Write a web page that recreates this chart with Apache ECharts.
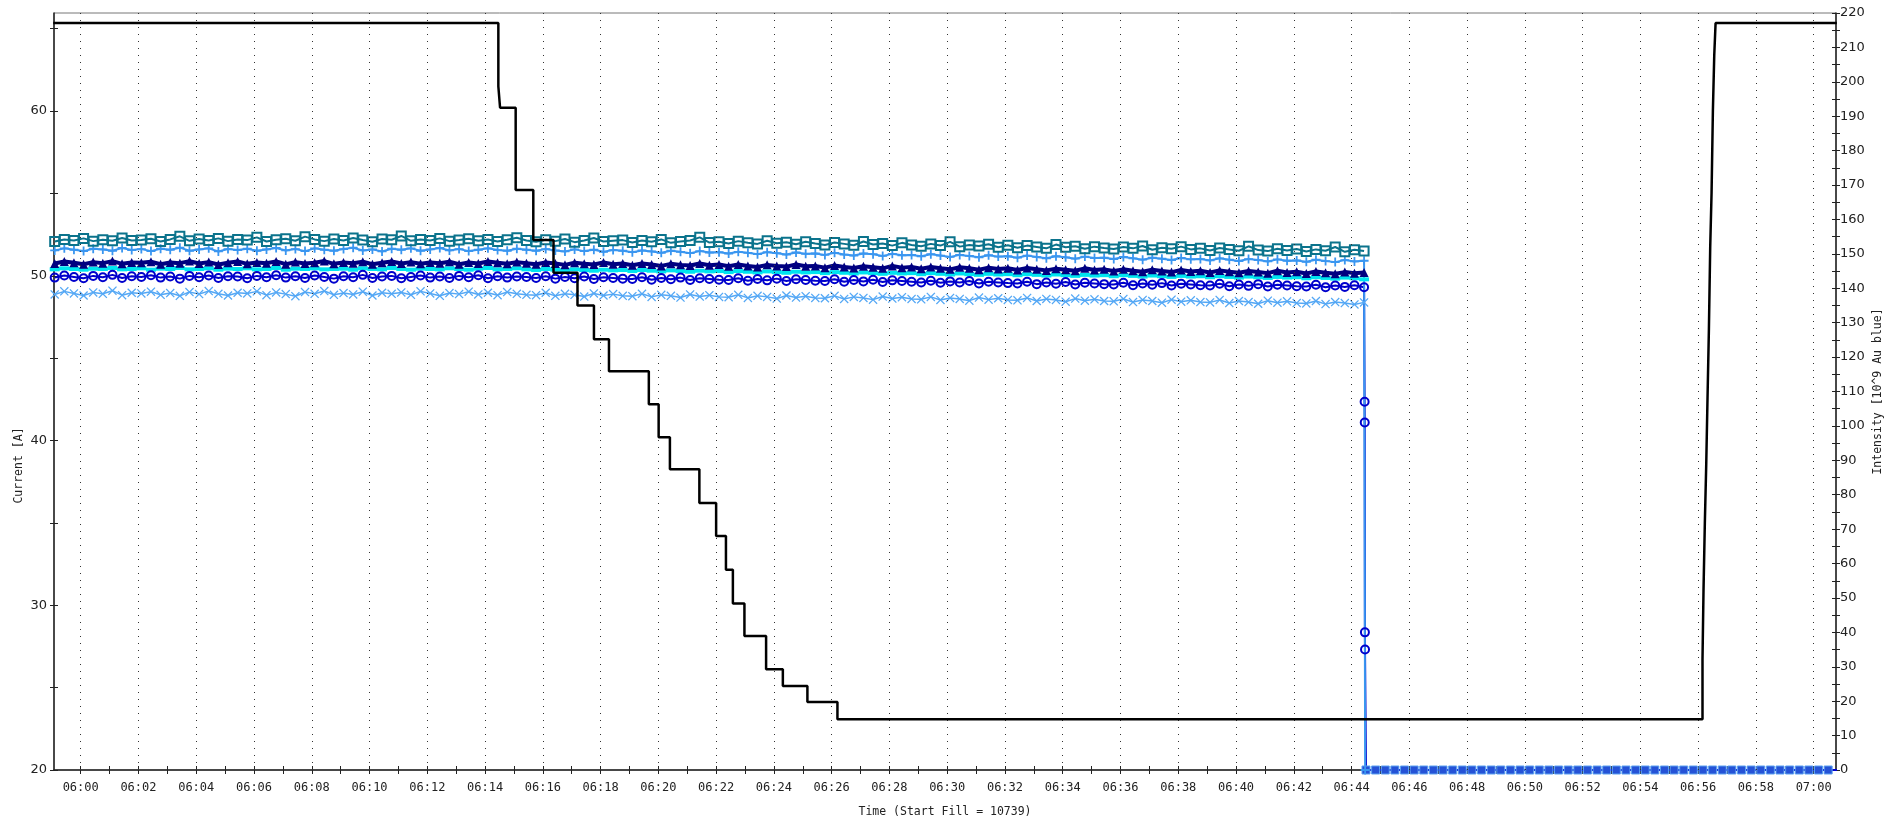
<!DOCTYPE html>
<html><head><meta charset="utf-8">
<script src="https://cdn.jsdelivr.net/npm/echarts@6/dist/echarts.min.js"></script>
<style>html,body{margin:0;padding:0;background:#fff}#c{width:1904px;height:822px}</style>
</head><body><div id="c"></div>
<script>
// ---------- time sampling (minutes after 06:00) ----------
const xMinMinutes = -0.924;
const xMaxMinutes = 60.772;
const sampleStartMin = -0.9;
const sampleStepMin = 1 / 3;
const dumpTimeMin = 44.47;
const dumpStartMin = 44.5;

// ---------- intensity signals [10^9 Au blue] ----------
const tealSquares = [
153.6,154.2,153.9,154.5,153.7,154.1,153.8,154.6,153.9,154.0,
154.4,153.6,154.2,155.1,153.8,154.3,153.9,154.5,153.7,154.2,
154.0,154.8,153.6,154.1,154.4,153.8,155.0,154.2,153.7,154.3,
153.9,154.6,154.0,153.5,154.3,154.1,155.2,153.8,154.2,153.9,
154.5,153.7,154.0,154.4,153.8,154.2,153.6,154.1,154.7,153.9,
153.5,154.1,153.7,154.3,153.4,153.9,154.6,153.6,153.8,154.0,
153.3,153.9,153.5,154.2,153.2,153.6,153.9,154.8,153.3,153.5,
153.0,153.7,153.2,152.9,153.8,153.1,153.4,152.8,153.5,153.0,
152.6,153.3,152.9,152.5,153.6,152.7,153.0,152.4,153.2,152.6,
152.2,152.9,152.4,153.5,152.1,152.6,152.3,152.8,151.9,152.5,
151.8,152.4,152.0,151.6,152.7,151.9,152.2,151.5,152.1,151.7,
151.4,152.0,151.6,152.3,151.2,151.8,151.5,152.1,151.3,151.6,
151.0,151.7,151.3,150.9,152.2,151.1,150.8,151.5,151.0,151.4,
150.7,151.3,150.9,152.0,150.6,151.2,150.8];

const lightBluePlus = [
151.0,151.6,151.2,150.8,151.5,151.3,150.9,151.7,151.1,151.4,
150.8,151.5,151.2,151.8,150.9,151.3,151.6,150.7,151.4,151.1,
151.5,150.9,151.3,151.7,151.0,151.4,150.8,151.6,151.2,150.9,
151.4,151.8,151.0,151.3,150.7,151.5,151.2,151.6,150.9,151.3,
151.7,151.0,151.4,150.8,151.2,151.6,151.1,150.9,151.5,151.2,
150.9,151.4,151.0,150.7,151.3,150.8,151.2,150.6,151.1,150.9,
150.5,151.0,150.7,150.3,150.9,150.6,150.2,150.8,150.4,150.5,
150.1,150.6,150.3,149.9,150.5,150.2,149.8,150.4,150.0,150.1,
149.7,150.3,149.8,149.5,150.1,149.9,149.4,150.0,149.6,149.7,
149.3,149.9,149.5,149.1,149.7,149.4,149.0,149.6,149.2,149.3,
148.9,149.5,149.1,148.7,149.3,149.0,148.6,149.2,148.8,148.9,
148.5,149.1,148.7,148.3,148.9,148.6,148.2,148.8,148.4,148.5,
148.1,148.7,148.3,147.9,148.5,148.2,147.8,148.4,148.0,148.1,
147.7,148.3,147.9,147.6,148.2,147.8,148.0];

const navyTriangles = [
147.2,147.8,147.4,147.0,147.6,147.3,147.9,147.1,147.5,147.4,
147.7,147.0,147.5,147.3,147.9,147.2,147.6,146.9,147.4,147.8,
147.1,147.5,147.3,147.8,147.0,147.6,147.2,147.4,147.9,147.1,
147.5,147.3,147.7,147.0,147.4,147.8,147.2,147.6,147.1,147.5,
147.3,147.7,147.0,147.5,147.2,147.8,147.4,147.1,147.6,147.3,
147.0,147.5,147.2,146.8,147.4,147.1,146.9,147.5,147.0,147.2,
146.7,147.2,146.9,146.5,147.1,146.8,146.6,147.2,146.7,146.9,
146.4,146.9,146.5,146.2,146.8,146.5,146.3,146.9,146.4,146.5,
146.0,146.6,146.2,145.9,146.4,146.1,145.8,146.5,146.0,146.2,
145.7,146.2,145.8,145.5,146.1,145.8,145.4,146.0,145.6,145.8,
145.3,145.9,145.5,145.2,145.7,145.4,145.1,145.8,145.3,145.5,
145.0,145.5,145.1,144.8,145.4,145.0,144.7,145.3,144.9,145.1,
144.6,145.2,144.8,144.5,145.0,144.7,144.4,145.1,144.6,144.8,
144.3,144.9,144.5,144.2,144.7,144.4,144.6];

const cyanDashes = [
145.5,145.8,145.6,145.4,145.7,145.6,145.9,145.5,145.6,145.8,
145.4,145.7,145.6,145.9,145.5,145.6,145.8,145.4,145.7,145.6,
145.8,145.5,145.6,145.9,145.4,145.7,145.6,145.8,145.5,145.6,
145.7,145.4,145.8,145.6,145.5,145.9,145.6,145.4,145.7,145.6,
145.5,145.8,145.6,145.4,145.7,145.9,145.5,145.6,145.8,145.5,
145.3,145.6,145.4,145.2,145.5,145.3,145.1,145.4,145.2,145.3,
145.0,145.3,145.1,144.9,145.2,145.0,144.8,145.1,144.9,145.0,
144.7,145.0,144.8,144.6,144.9,144.7,144.5,144.8,144.6,144.7,
144.4,144.7,144.5,144.3,144.6,144.4,144.2,144.5,144.3,144.4,
144.1,144.4,144.2,144.0,144.3,144.1,143.9,144.2,144.0,144.1,
143.8,144.1,143.9,143.7,144.0,143.8,143.6,143.9,143.7,143.8,
143.5,143.8,143.6,143.4,143.7,143.5,143.3,143.6,143.4,143.5,
143.2,143.5,143.3,143.1,143.4,143.2,143.0,143.3,143.1,143.2,
142.9,143.2,143.0,142.8,143.1,142.9,142.6];

const blueCircles = [
143.1,143.7,143.3,142.9,143.6,143.2,143.9,143.0,143.5,143.3,
143.8,143.1,143.4,142.8,143.6,143.2,143.7,143.0,143.5,143.4,
142.9,143.6,143.2,143.8,143.1,143.5,143.0,143.7,143.3,142.8,
143.5,143.2,143.9,143.0,143.4,143.6,142.9,143.3,143.7,143.1,
143.4,143.0,143.6,143.2,143.8,142.9,143.5,143.1,143.4,143.3,
143.0,143.5,142.8,143.3,142.9,143.4,142.7,143.2,143.0,142.8,
142.7,143.2,142.5,143.0,142.6,143.1,142.4,142.9,142.7,142.5,
142.4,142.9,142.2,142.7,142.3,142.8,142.1,142.6,142.4,142.2,
142.1,142.6,141.9,142.4,142.0,142.5,141.8,142.3,142.1,141.9,
141.7,142.2,141.6,142.0,141.7,142.1,141.4,141.9,141.7,141.5,
141.4,141.9,141.2,141.7,141.3,141.8,141.1,141.6,141.4,141.2,
141.1,141.6,140.9,141.4,141.0,141.5,140.8,141.3,141.1,140.9,
140.8,141.3,140.6,141.1,140.7,141.2,140.5,141.0,140.8,140.6,
140.5,141.0,140.3,140.8,140.4,140.9,140.3];
const blueCirclesDropTimes = [44.452, 44.456, 44.462, 44.466];
const blueCirclesDropValues = [107, 101, 40, 35];

const skyBlueCrosses = [
138.2,139.1,138.5,137.9,138.8,138.4,139.3,138.0,138.7,138.5,
139.0,138.1,138.6,137.8,138.9,138.3,139.2,138.4,137.9,138.7,
138.5,139.1,138.0,138.8,138.3,137.7,138.9,138.4,139.2,138.1,
138.6,138.2,139.0,137.9,138.7,138.4,138.8,138.1,139.1,138.5,
137.8,138.6,138.3,139.0,138.2,138.7,138.0,138.9,138.4,138.1,
138.0,138.7,137.8,138.4,138.1,137.6,138.5,137.9,138.3,137.8,
137.7,138.4,137.5,138.1,137.8,137.3,138.2,137.6,138.0,137.5,
137.4,138.1,137.2,137.8,137.5,137.0,137.9,137.3,137.7,137.2,
137.1,137.8,136.9,137.5,137.2,136.7,137.6,137.0,137.4,136.9,
136.8,137.5,136.6,137.2,136.9,136.4,137.3,136.7,137.1,136.6,
136.5,137.2,136.3,136.9,136.6,136.1,137.0,136.4,136.8,136.3,
136.2,136.9,136.0,136.6,136.3,135.8,136.7,136.1,136.5,136.0,
135.9,136.6,135.7,136.3,136.0,135.5,136.4,135.8,136.2,135.7,
135.6,136.3,135.4,136.0,135.7,135.3,135.9];

// after the beam dump: intensity reads zero
const afterDumpIntensity = [
0,0,0,0,0,0,0,0,0,0,
0,0,0,0,0,0,0,0,0,0,
0,0,0,0,0,0,0,0,0,0,
0,0,0,0,0,0,0,0,0,0,
0,0,0,0,0,0,0,0,0,0];

// ---------- magnet current [A] (step signal) ----------
const currentTimes = [
-0.95, 14.46, 14.52, 15.06, 15.67, 16.37, 17.20, 17.77, 18.29, 19.67,
20.01, 20.40, 21.42, 22.00, 22.34, 22.58, 22.98, 23.73, 24.31, 25.16,
26.20, 56.150, 56.185, 56.231, 56.278, 56.324, 56.371, 56.417, 56.464, 56.510,
56.557, 56.603, 60.80];
const currentValues = [
65.34, 61.5, 60.2, 55.2, 52.17, 50.19, 48.2, 46.15, 44.2, 42.2,
40.2, 38.25, 36.2, 34.2, 32.16, 30.1, 28.13, 26.11, 25.1, 24.13,
23.08, 26.7, 30.9, 35.0, 38.45, 42.6, 46.7, 51.75, 55.04, 60.05,
63.4, 65.34, 65.34];

// ---------- axis ticks / labels ----------
const currentTickValues = [20,25,30,35,40,45,50,55,60,65];
const currentLabelValues = [20,30,40,50,60];
const intensityTickValues = [0,5,10,15,20,25,30,35,40,45,50,55,60,65,70,75,80,85,90,95,100,105,110,115,120,125,130,135,140,145,150,155,160,165,170,175,180,185,190,195,200,205,210,215,220];
const intensityLabelValues = [0,10,20,30,40,50,60,70,80,90,100,110,120,130,140,150,160,170,180,190,200,210,220];
const timeTickMinutes = [0,1,2,3,4,5,6,7,8,9,10,11,12,13,14,15,16,17,18,19,20,21,22,23,24,25,26,27,28,29,30,31,32,33,34,35,36,37,38,39,40,41,42,43,44,45,46,47,48,49,50,51,52,53,54,55,56,57,58,59,60];
const timeLabelMinutes = [0,2,4,6,8,10,12,14,16,18,20,22,24,26,28,30,32,34,36,38,40,42,44,46,48,50,52,54,56,58,60];

// ---------- build ----------
function sampled(values, start) {
  return values.map((v, i) => [start + i * sampleStepMin, v]);
}
function fmtTime(v) {
  const tot = Math.round(v);
  const h = 6 + Math.floor(tot / 60);
  const m = ((tot % 60) + 60) % 60;
  return String(h).padStart(2, '0') + ':' + String(m).padStart(2, '0');
}
const monoFont = '"DejaVu Sans Mono", "Liberation Mono", monospace';
const sansFont = '"DejaVu Sans", sans-serif';
const axisColor = '#222';

const plusPath = 'path://M4,0H6V4H10V6H6V10H4V6H0V4H4Z';
const crossPath = 'path://M1,0L5,4L9,0L10,1L6,5L10,9L9,10L5,6L1,10L0,9L4,5L0,1Z';

function xAxisBase(extra) {
  return Object.assign({
    type: 'value', min: xMinMinutes, max: xMaxMinutes, gridIndex: 0, position: 'bottom',
    axisLine: { show: false, onZero: false }, axisTick: { show: false }, axisLabel: { show: false },
    splitLine: { show: false }, minorTick: { show: false }, minorSplitLine: { show: false }
  }, extra);
}
function yAxisBase(extra) {
  return Object.assign({
    type: 'value', gridIndex: 0,
    axisLine: { show: false, onZero: false }, axisTick: { show: false }, axisLabel: { show: false },
    splitLine: { show: false }, minorTick: { show: false }, minorSplitLine: { show: false }
  }, extra);
}

const zeroBandItems = sampled(afterDumpIntensity, dumpStartMin).map(p => ({
  value: p, symbol: 'rect', symbolSize: 8,
  itemStyle: { color: '#2552d6', borderColor: '#5aa0f0', borderWidth: 1 }
}));

const option = {
  animation: false,
  backgroundColor: '#fff',
  grid: { left: 54, right: 68, top: 13, bottom: 52, show: true, borderColor: '#777', borderWidth: 1, containLabel: false, outerBoundsMode: 'none' },
  xAxis: [
    xAxisBase({
      axisLine: { show: true, onZero: false, lineStyle: { color: axisColor, width: 1.5 } },
      axisTick: { show: true, customValues: timeTickMinutes, length: 4, lineStyle: { color: axisColor } },
      axisLabel: { show: true, customValues: timeLabelMinutes, formatter: fmtTime, fontFamily: monoFont, fontSize: 12, color: axisColor, margin: 12 },
      name: 'Time (Start Fill = 10739)', nameLocation: 'middle', nameGap: 36, nameMoveOverlap: false,
      nameTextStyle: { fontFamily: monoFont, fontSize: 11.5, color: axisColor }
    }),
    xAxisBase({ axisTick: { show: true, inside: true, customValues: timeTickMinutes, length: 4, lineStyle: { color: axisColor } } })
  ],
  yAxis: [
    yAxisBase({
      position: 'left', min: 20, max: 65.95,
      axisLine: { show: true, onZero: false, lineStyle: { color: axisColor, width: 1.5 } },
      axisTick: { show: true, customValues: currentTickValues, length: 4, lineStyle: { color: axisColor } },
      axisLabel: { show: true, customValues: currentLabelValues, fontFamily: sansFont, fontSize: 13, color: axisColor, margin: 7 },
      name: 'Current [A]', nameLocation: 'middle', nameRotate: 90, nameGap: 29, nameMoveOverlap: false,
      nameTextStyle: { fontFamily: monoFont, fontSize: 11.5, color: axisColor, padding: [0, 148, 0, 0] }
    }),
    yAxisBase({
      position: 'right', min: 0, max: 220,
      axisLine: { show: true, onZero: false, lineStyle: { color: axisColor, width: 1.5 } },
      axisTick: { show: true, customValues: intensityTickValues, length: 4, lineStyle: { color: axisColor } },
      axisLabel: { show: true, customValues: intensityLabelValues, fontFamily: sansFont, fontSize: 13, color: axisColor, margin: 4 },
      name: 'Intensity [10^9 Au blue]', nameLocation: 'middle', nameRotate: 90, nameGap: 36, nameMoveOverlap: false,
      nameTextStyle: { fontFamily: monoFont, fontSize: 11.5, color: axisColor }
    }),
    yAxisBase({ position: 'left', min: 20, max: 65.95,
      axisTick: { show: true, inside: true, customValues: currentTickValues, length: 4, lineStyle: { color: axisColor } } }),
    yAxisBase({ position: 'right', min: 0, max: 220,
      axisTick: { show: true, inside: true, customValues: intensityTickValues, length: 4, lineStyle: { color: axisColor } } })
  ],
  series: [
    {
      name: 'grid', type: 'line', xAxisIndex: 0, yAxisIndex: 1, silent: true, z: 1,
      data: [],
      markLine: {
        silent: true, symbol: ['none', 'none'], animation: false,
        label: { show: false },
        lineStyle: { color: '#333', width: 1, type: [1, 6] },
        data: timeLabelMinutes.map(v => ({ xAxis: v }))
      }
    },
    {
      name: 'sky blue x', type: 'line', xAxisIndex: 0, yAxisIndex: 1, silent: true,
      data: sampled(skyBlueCrosses, sampleStartMin),
      symbol: crossPath, symbolSize: 9, showSymbol: true,
      itemStyle: { color: '#55a8f5' }, lineStyle: { color: '#55a8f5', width: 1.5 }
    },
    {
      name: 'cyan', type: 'line', xAxisIndex: 0, yAxisIndex: 1, silent: true,
      data: sampled(cyanDashes, sampleStartMin),
      symbol: 'rect', symbolSize: [10, 4], showSymbol: true,
      itemStyle: { color: '#00e4f0' }, lineStyle: { color: '#00e4f0', width: 2 }
    },
    {
      name: 'navy', type: 'line', xAxisIndex: 0, yAxisIndex: 1, silent: true,
      data: sampled(navyTriangles, sampleStartMin),
      symbol: 'triangle', symbolSize: 9, showSymbol: true,
      itemStyle: { color: '#000080' }, lineStyle: { color: '#000080', width: 4 }
    },
    {
      name: 'blue circles', type: 'line', xAxisIndex: 0, yAxisIndex: 1, silent: true,
      data: sampled(blueCircles, sampleStartMin)
        .concat(blueCirclesDropTimes.map((t, i) => [t, blueCirclesDropValues[i]]))
        .concat(zeroBandItems),
      symbol: 'circle', symbolSize: 8, showSymbol: true,
      itemStyle: { color: 'rgba(0,0,0,0)', borderColor: '#0000cc', borderWidth: 2 },
      lineStyle: { color: '#0000cc', width: 2 }
    },
    {
      name: 'light blue plus', type: 'line', xAxisIndex: 0, yAxisIndex: 1, silent: true,
      data: sampled(lightBluePlus, sampleStartMin)
        .concat([[dumpTimeMin, afterDumpIntensity[0]]]),
      symbol: plusPath, symbolSize: 9, showSymbol: true,
      itemStyle: { color: '#3a96f0' }, lineStyle: { color: '#3a96f0', width: 2 }
    },
    {
      name: 'teal squares', type: 'line', xAxisIndex: 0, yAxisIndex: 1, silent: true,
      data: sampled(tealSquares, sampleStartMin),
      symbol: 'rect', symbolSize: 9, showSymbol: true,
      itemStyle: { color: 'rgba(0,0,0,0)', borderColor: '#0b738c', borderWidth: 2 },
      lineStyle: { color: '#0b738c', width: 2 }
    },
    {
      name: 'Current', type: 'line', xAxisIndex: 0, yAxisIndex: 0, silent: true, z: 5,
      step: 'end', showSymbol: false,
      data: currentTimes.map((t, i) => [t, currentValues[i]]),
      lineStyle: { color: '#000', width: 2.5 }
    }
  ]
};
const chart = echarts.init(document.getElementById('c'), null, { renderer: 'canvas' });
chart.setOption(option);
</script>
</body></html>
